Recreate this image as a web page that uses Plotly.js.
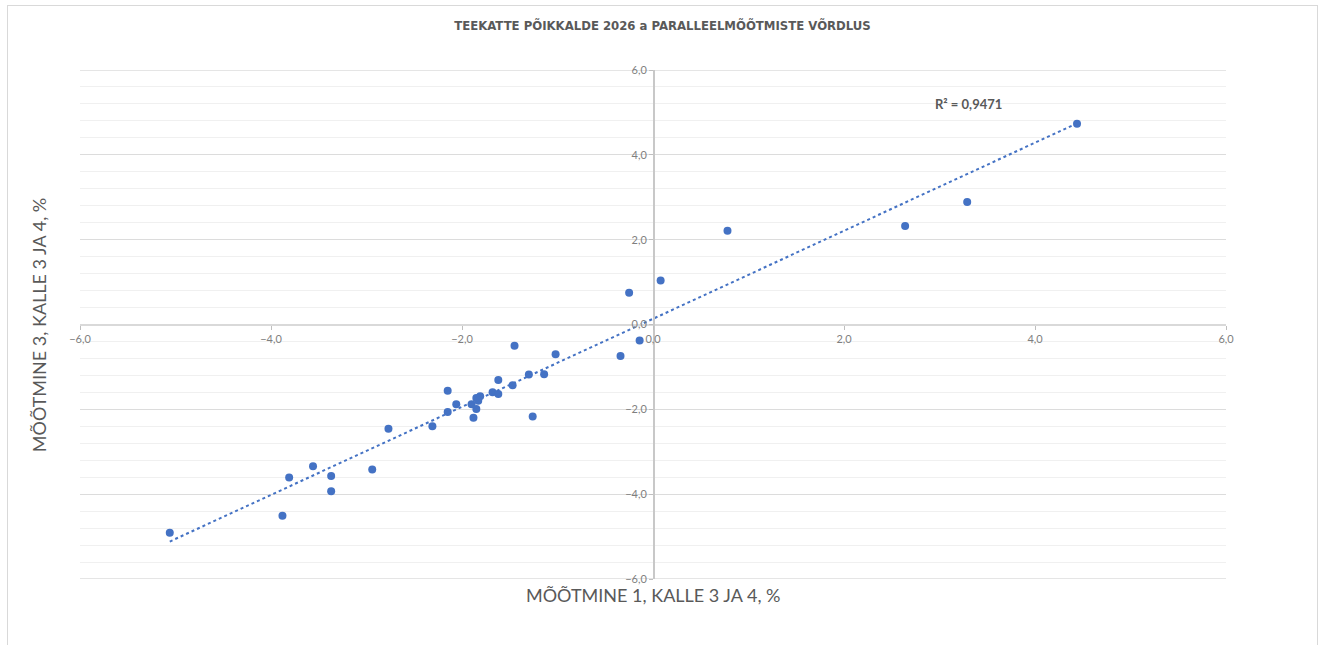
<!DOCTYPE html>
<html>
<head>
<meta charset="utf-8">
<script src="https://cdn.plot.ly/plotly-3.0.1.min.js"></script>
<style>
  html, body { margin: 0; padding: 0; background: #ffffff; }
  #chart { position: absolute; left: 0; top: 0; width: 1325px; height: 645px; }
  #frame { position: absolute; left: 7px; top: 5px; width: 1309px; height: 660px;
           border: 1.5px solid #d9d9d9; pointer-events: none; }
</style>
</head>
<body>
<div id="chart"></div>
<div id="frame"></div>
<script>
// Measurement 1 (x) vs measurement 3 (y), %
const xValues = [4.44, 3.29, 2.64, 0.78, 0.08, -0.25, -0.14, -0.34,
  -1.02, -1.45, -1.14, -1.30, -1.62, -1.47, -2.15, -1.68, -1.62, -1.81,
  -1.85, -1.83, -2.06, -1.90, -1.85, -2.15, -1.88, -1.26, -2.31, -2.77,
  -3.56, -2.94, -3.81, -3.37, -3.37, -3.88, -5.06];
const yValues = [4.73, 2.89, 2.32, 2.21, 1.04, 0.75, -0.38, -0.74,
  -0.70, -0.50, -1.17, -1.18, -1.31, -1.43, -1.56, -1.60, -1.64, -1.69,
  -1.73, -1.80, -1.88, -1.88, -1.99, -2.06, -2.20, -2.17, -2.40, -2.46,
  -3.34, -3.42, -3.61, -3.57, -3.93, -4.51, -4.91];
const chartTitle = "TEEKATTE PÕIKKALDE 2026 a PARALLEELMÕÕTMISTE VÕRDLUS";
const xTitle = "MÕÕTMINE 1, KALLE 3 JA 4, %";
const yTitle = "MÕÕTMINE 3, KALLE 3 JA 4, %";
const r2Label = "R² = 0,9471";
const axisMin = -6, axisMax = 6;

// linear trendline (least squares)
const n = xValues.length;
const mx = xValues.reduce((a, b) => a + b, 0) / n;
const my = yValues.reduce((a, b) => a + b, 0) / n;
let sxy = 0, sxx = 0;
for (let i = 0; i < n; i++) { sxy += (xValues[i] - mx) * (yValues[i] - my); sxx += (xValues[i] - mx) ** 2; }
const slope = sxy / sxx, intercept = my - slope * mx;
const xmin = Math.min(...xValues), xmax = Math.max(...xValues);
const trendX = [xmin, xmax];
const trendY = trendX.map(v => intercept + slope * v);

const blue = '#4472c4';
const data = [
  { type: 'scatter', mode: 'lines', x: trendX, y: trendY,
    line: { color: blue, width: 2, dash: 'dot' }, hoverinfo: 'skip', showlegend: false },
  { type: 'scatter', mode: 'markers', x: xValues, y: yValues,
    marker: { color: blue, size: 8 }, showlegend: false }
];

const tickFont = { family: 'Lato, "Open Sans", sans-serif', size: 11, color: '#7f7f7f' };
const edgeGrid = [axisMin, axisMax].map(v => ({
  type: 'line', xref: 'paper', yref: 'y', x0: 0, x1: 1, y0: v, y1: v,
  line: { color: '#dcdcdc', width: 1.5 }, layer: 'below'
}));
const layout = {
  width: 1325, height: 645,
  margin: { l: 80, r: 99, t: 70, b: 66 },
  paper_bgcolor: '#ffffff', plot_bgcolor: '#ffffff',
  separators: ', ',
  showlegend: false,
  title: { text: chartTitle, x: 0.5, xanchor: 'center', y: 0.96, yanchor: 'middle',
    font: { family: '"Liberation Sans Narrow", "DejaVu Sans Condensed", sans-serif', size: 13, weight: 'bold', color: '#595959' } },
  xaxis: {
    range: [axisMin, axisMax], dtick: 2, tick0: 0, tickformat: '.1f',
    anchor: 'free', position: 0.5,
    showgrid: false, zeroline: false,
    showline: true, linecolor: '#d9d9d9', linewidth: 2,
    ticks: 'outside', ticklen: 4, tickcolor: '#bfbfbf', tickwidth: 1,
    tickfont: tickFont, fixedrange: true
  },
  yaxis: {
    range: [axisMin, axisMax], dtick: 2, tick0: 0, tickformat: '.1f',
    anchor: 'free', position: 0.5,
    showgrid: true, gridcolor: '#dcdcdc', gridwidth: 1,
    minor: { dtick: 0.4, tick0: 0, showgrid: true, gridcolor: '#f0f0f0', gridwidth: 1 },
    zeroline: false,
    showline: true, linecolor: '#c8c8c8', linewidth: 1.5,
    ticks: 'outside', ticklen: 4, tickcolor: '#bfbfbf', tickwidth: 1,
    tickfont: tickFont, fixedrange: true
  },
  shapes: edgeGrid,
  annotations: [
    { text: xTitle, xref: 'paper', yref: 'paper', x: 0.5, y: -0.005, xanchor: 'center', yanchor: 'top',
      showarrow: false, font: { family: 'Lato, "Open Sans", sans-serif', size: 18, color: '#595959' } },
    { text: yTitle, xref: 'paper', yref: 'paper', x: -0.036, y: 0.5, xanchor: 'center', yanchor: 'middle',
      textangle: -90, showarrow: false, font: { family: 'Lato, "Open Sans", sans-serif', size: 18, color: '#595959' } },
    { text: '<b>' + r2Label + '</b>', xref: 'x', yref: 'y', x: 3.3, y: 5.2, xanchor: 'center', yanchor: 'middle',
      showarrow: false, font: { family: 'Lato, "Open Sans", sans-serif', size: 13, color: '#595959' } }
  ]
};

Plotly.newPlot('chart', data, layout, { displayModeBar: false, staticPlot: true });
</script>
</body>
</html>
